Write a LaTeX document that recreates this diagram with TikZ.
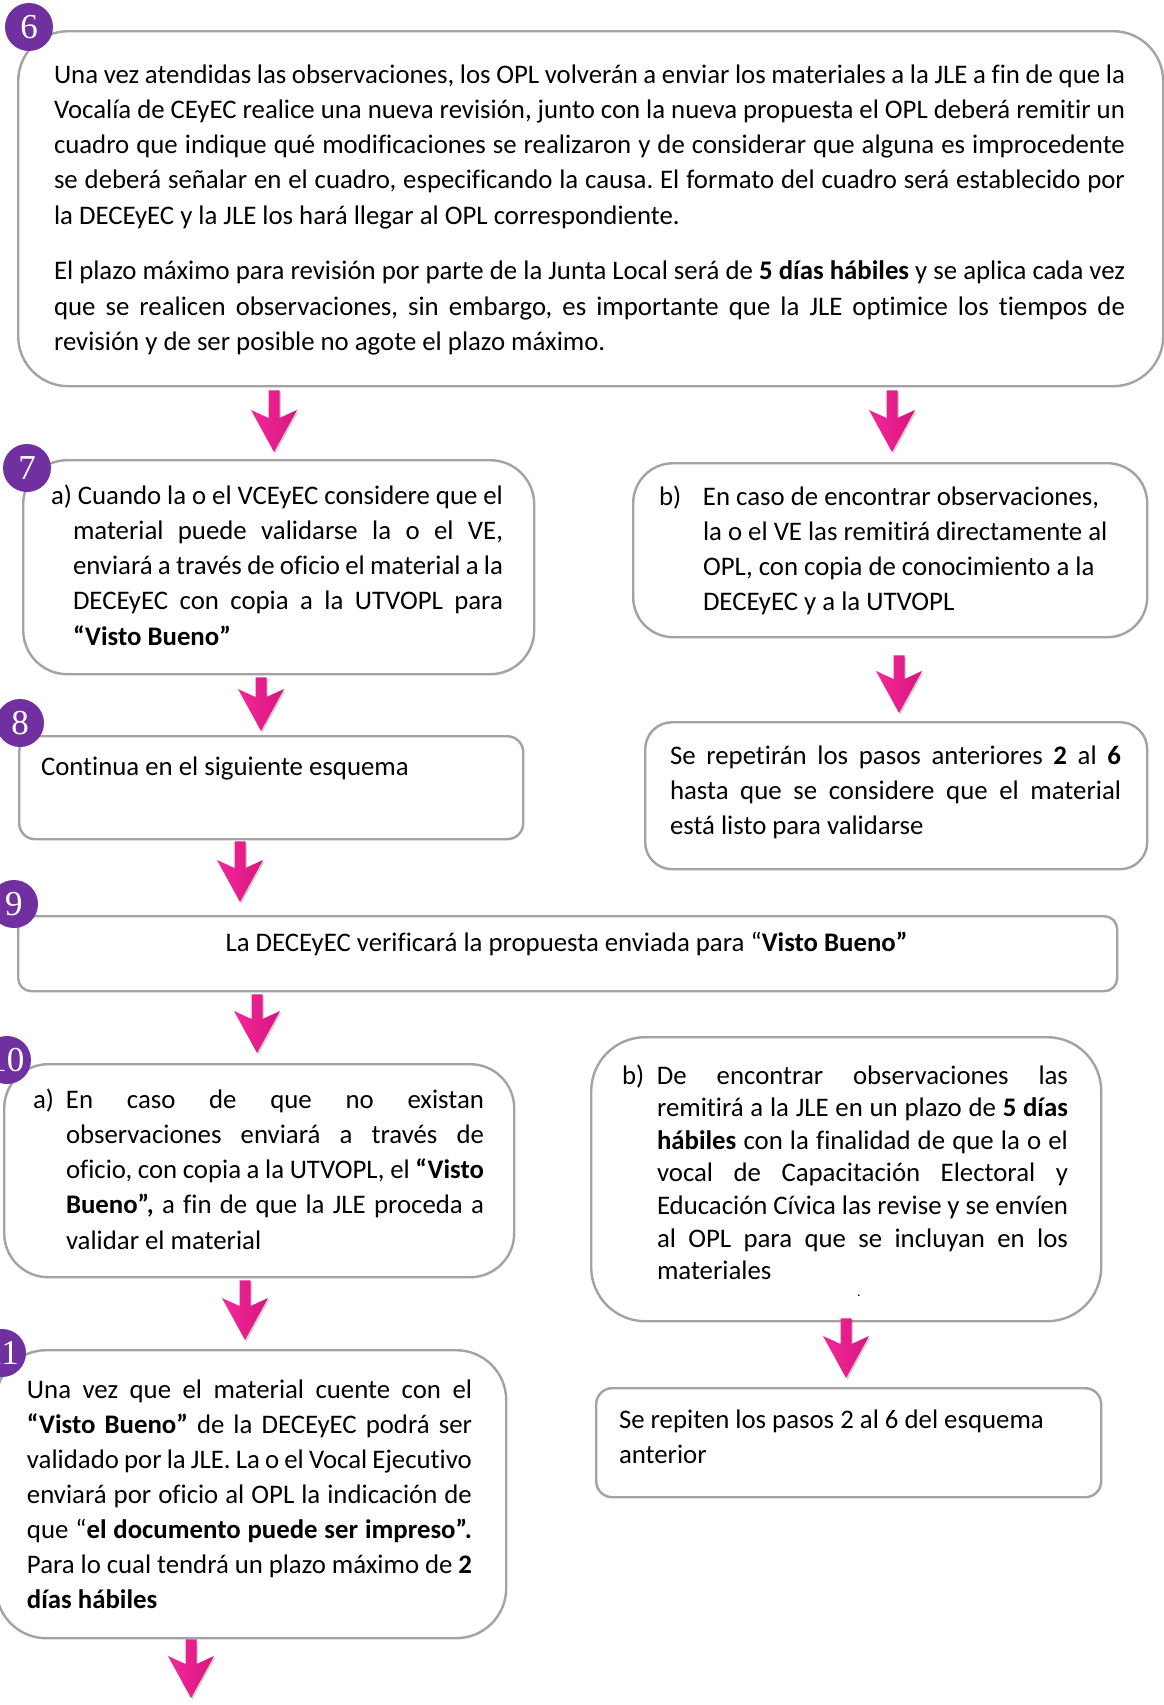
\documentclass[tikz,border=0pt]{standalone}
\usepackage{fontspec}
\setmainfont{Carlito}[Ligatures=NoCommon]
\newfontfamily\numfont{Liberation Serif}
\usetikzlibrary{calc,shadows}
\definecolor{pinkA}{HTML}{F4279A}
\definecolor{pinkB}{HTML}{D8157F}
\definecolor{purp}{HTML}{7030A0}
\definecolor{bord}{HTML}{A3A3A3}
\newcommand\myJL[2]{\hbox to #1pt{#2}}
\newcommand\myIJ[3]{\hbox{\hskip#1pt\relax\hbox to #2pt{#3}}}
\newcommand\myNL[1]{\hbox{#1}}
\newcommand\myIN[2]{\hbox{\hskip#1pt\relax #2}}
\newcommand\myTB[2]{\vtop{\baselineskip=#1pt\lineskiplimit=-100pt\lineskip=0pt\frenchspacing #2}}
% arrow: x, from-anchor, top offset, to-anchor, tip offset
\newcommand\parrow[5]{%
  \shade[arrowfill] let \p1=(#1,0 |- #2), \p2=(#1,0 |- #4) in
    (\x1-5.5pt,\y1-#3pt) -- (\x1+5.5pt,\y1-#3pt) -- (\x1+5.5pt,\y2+#5pt+34pt)
    -- (\x1+23pt,\y2+#5pt+42pt) -- (\x1,\y2+#5pt) -- (\x1-23pt,\y2+#5pt+42pt)
    -- (\x1-5.5pt,\y2+#5pt+34pt) -- cycle;}
\begin{document}
\begin{tikzpicture}[x=1pt,y=-1pt,
  box/.style={draw=bord, line width=2.4pt, fill=white, inner sep=0pt, anchor=north west},
  txt/.style={anchor=base west, inner sep=0pt, outer sep=0pt, font=\fontsize{26.8pt}{35.3pt}\selectfont},
  num/.style={circle, fill=purp, text=white, minimum size=48pt, inner sep=0pt, font=\numfont\fontsize{35pt}{35pt}\selectfont},
  arrowfill/.style={left color=pinkA, right color=pinkB,
    drop shadow={shadow xshift=1.5pt, shadow yshift=-1.5pt, opacity=.3, fill=black!60}}]
\useasboundingbox[fill=white] (0,0) rectangle (1164,1705);

% boxes
\node[box, rounded corners=50pt, minimum width=1145pt, minimum height=355pt] (b6) at (17,30) {};
\node[box, rounded corners=44pt, minimum width=511pt, minimum height=214pt] (b7a) at (22,459) {};
\node[box, rounded corners=40pt, minimum width=514pt, minimum height=174pt] (b7b) at (632,462) {};
\node[box, rounded corners=16pt, minimum width=504pt, minimum height=103pt] (b8) at (18,735) {};
\node[box, rounded corners=27pt, minimum width=502pt, minimum height=147pt] (bR) at (644,721) {};
\node[box, rounded corners=13pt, minimum width=1099pt, minimum height=75pt] (b9) at (17,915) {};
\node[box, rounded corners=44pt, minimum width=510pt, minimum height=213pt] (b10a) at (3,1063) {};
\node[box, rounded corners=54pt, minimum width=510pt, minimum height=284pt] (b10b) at (590,1036) {};
\node[box, rounded corners=16pt, minimum width=505pt, minimum height=109pt] (bS) at (595,1387) {};
\node[box, rounded corners=50pt, minimum width=510pt, minimum height=288pt] (b11) at (-5,1349) {};
\coordinate (end11) at (191,1698);

% texts
\node[txt] (t6) at (54,83) {\myTB{35.3}{%
\myJL{1071}{Una vez atendidas las observaciones, los OPL volverán a enviar los materiales a la JLE a fin de que la}
\myJL{1071}{Vocalía de CEyEC realice una nueva revisión, junto con la nueva propuesta el OPL deberá remitir un}
\myJL{1071}{cuadro que indique qué modificaciones se realizaron y de considerar que alguna es improcedente}
\myJL{1071}{se deberá señalar en el cuadro, especificando la causa. El formato del cuadro será establecido por}
\myNL{la DECEyEC y la JLE los hará llegar al OPL correspondiente.}
\vskip20.3pt
\myJL{1071}{El plazo máximo para revisión por parte de la Junta Local será de \textbf{5 días hábiles} y se aplica cada vez}
\myJL{1071}{que se realicen observaciones, sin embargo, es importante que la JLE optimice los tiempos de}
\myNL{revisión y de ser posible no agote el plazo máximo.}}};

\node[txt] (t7a) at (51,504) {\myTB{35.3}{%
\myJL{452}{a) Cuando la o el VCEyEC considere que el}
\myIJ{22}{430}{material puede validarse la o el VE,}
\myIJ{22}{430}{enviará a través de oficio el material a la}
\myIJ{22}{430}{DECEyEC con copia a la UTVOPL para}
\myIN{22}{\textbf{“Visto Bueno”}}}};

\node[txt] (t7b) at (659,505) {\myTB{35.3}{%
\myNL{\makebox[44pt][l]{b)}En caso de encontrar observaciones,}
\myIN{44}{la o el VE las remitirá directamente al}
\myIN{44}{OPL, con copia de conocimiento a la}
\myIN{44}{DECEyEC y a la UTVOPL}}};

\node[txt] (t8) at (41,775) {Continua en el siguiente esquema};

\node[txt] (tR) at (670,764) {\myTB{35.3}{%
\myJL{451}{Se repetirán los pasos anteriores \textbf{2} al \textbf{6}}
\myJL{451}{hasta que se considere que el material}
\myNL{está listo para validarse}}};

\node[txt, anchor=base] (t9) at (566.5,951) {La DECEyEC verificará la propuesta enviada para “\textbf{Visto Bueno”}};

\node[txt] (t10a) at (33,1108) {\myTB{35.3}{%
\hbox{\makebox[33pt][l]{a)}\hbox to 418pt{En caso de que no existan}}
\myIJ{33}{418}{observaciones enviará a través de}
\myIJ{33}{418}{oficio, con copia a la UTVOPL, el \textbf{“Visto}}
\myIJ{33}{418}{\textbf{Bueno”,} a fin de que la JLE proceda a}
\myIN{33}{validar el material}}};

\node[txt] (t10b) at (622,1084) {\myTB{32.6}{%
\hbox{\makebox[35pt][l]{b)}\hbox to 411pt{De encontrar observaciones las}}
\myIJ{35}{411}{remitirá a la JLE en un plazo de \textbf{5 días}}
\myIJ{35}{411}{\textbf{hábiles} con la finalidad de que la o el}
\myIJ{35}{411}{vocal de Capacitación Electoral y}
\myIJ{35}{411}{Educación Cívica las revise y se envíen}
\myIJ{35}{411}{al OPL para que se incluyan en los}
\myIN{35}{materiales}}};
\node[txt, font=\fontsize{14pt}{14pt}\selectfont] (dot) at (857,1296) {.};

\node[txt] (tS) at (619,1428) {\myTB{35}{%
\myNL{Se repiten los pasos 2 al 6 del esquema}
\myNL{anterior}}};

\node[txt] (t11) at (27,1398) {\myTB{35.1}{%
\myJL{445}{Una vez que el material cuente con el}
\myJL{445}{\textbf{“Visto Bueno”} de la DECEyEC podrá ser}
\myJL{445}{validado por la JLE. La o el Vocal Ejecutivo}
\myJL{445}{enviará por oficio al OPL la indicación de}
\myJL{445}{que “\textbf{el documento puede ser impreso”.}}
\myJL{445}{Para lo cual tendrá un plazo máximo de \textbf{2}}
\myNL{\textbf{días hábiles}}}};

% numbered circles
\node[num] (n6) at (29,27) {6};
\node[num] (n7) at (27,468) {7};
\node[num] (n8) at (20,723) {8};
\node[num] (n9) at (14,904) {9};
\node[num] (n10) at (7,1060) {10};
\node[num] (n11) at (2,1353) {11};

% arrows
\parrow{274}{b6.south}{3}{b7a.north}{7}
\parrow{892}{b6.south}{3}{b7b.north}{10}
\parrow{261}{b7a.south}{2}{b8.north}{4}
\parrow{899}{b7b.south}{17}{bR.north}{8}
\parrow{240}{b8.south}{1}{b9.north}{13}
\parrow{257}{b9.south}{2}{b10a.north}{10}
\parrow{846}{b10b.south}{-4}{bS.north}{9}
\parrow{245}{b10a.south}{2}{b11.north}{9}
\parrow{191}{b11.south}{0}{end11}{0}
\end{tikzpicture}
\end{document}
